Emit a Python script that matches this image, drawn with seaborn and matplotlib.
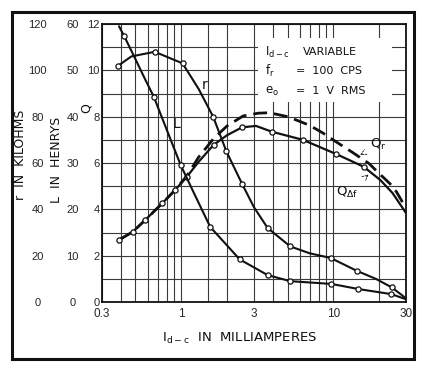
import matplotlib
matplotlib.use("Agg")
import matplotlib.pyplot as plt
from matplotlib.patches import Rectangle
import seaborn as sns

# Direct current through the winding, milliamperes (log scale)
r_ma = [0.385, 0.47, 0.67, 1.02, 1.3, 1.62, 1.98, 2.51, 3.0, 3.69, 5.2, 7.0, 9.6, 14.3, 19.0, 24.2, 30.0]
r_kohm = [102, 106, 108, 103, 92, 80, 65, 51, 41, 32, 24, 21, 19, 13.4, 10, 6.3, 1.6]
r_points = [0, 2, 3, 5, 6, 7, 9, 10, 12, 13, 15]

L_ma = [0.39, 0.42, 0.49, 0.58, 0.66, 0.8, 0.99, 1.2, 1.55, 2.0, 2.42, 3.7, 5.2, 9.7, 14.6, 24.0, 30.0]
L_henry = [59.5, 57.5, 53, 48, 44.3, 37.3, 29.6, 23.8, 16.2, 12.2, 9.2, 5.8, 4.5, 3.9, 2.8, 1.7, 0.6]
L_points = [1, 4, 6, 8, 10, 11, 12, 13, 14, 15]

qdf_ma = [0.39, 0.48, 0.58, 0.75, 0.91, 1.09, 1.3, 1.63, 2.0, 2.51, 3.1, 3.94, 6.3, 10.4, 15.8, 20.3, 24.5, 30.0]
qdf_q = [2.68, 3.03, 3.54, 4.26, 4.83, 5.41, 6.05, 6.78, 7.2, 7.54, 7.6, 7.35, 7.0, 6.39, 5.84, 5.27, 4.7, 3.84]
qdf_points = [0, 1, 2, 3, 4, 5, 7, 9, 11, 12, 13, 14]

qr_ma = [0.39, 0.48, 0.58, 0.75, 0.91, 1.09, 1.3, 1.63, 2.0, 2.55, 3.2, 3.8, 5.0, 6.1, 7.0, 8.5, 10.5, 13.4, 17.2, 19.6, 23.6, 26.0, 28.5, 30.0]
qr_q = [2.68, 3.03, 3.54, 4.26, 4.83, 5.45, 6.25, 7.05, 7.6, 8.03, 8.15, 8.17, 8.0, 7.78, 7.62, 7.3, 6.9, 6.45, 5.97, 5.6, 5.1, 4.75, 4.3, 4.1]

x_ticks = [0.3, 1, 3, 10, 30]
x_ticklabels = ["0.3", "1", "3", "10", "30"]
x_grid = [0.4, 0.5, 0.6, 0.7, 0.8, 0.9, 1.5, 2, 4, 5, 6, 7, 8, 9, 20]
q_ticks = [0, 2, 4, 6, 8, 10, 12]
r_ticks = [0, 20, 40, 60, 80, 100, 120]
L_ticks = [0, 10, 20, 30, 40, 50, 60]

sns.set_theme(style="white")
NARROW = ["Liberation Sans Narrow", "Liberation Sans", "DejaVu Sans"]
WIDE = ["DejaVu Sans"]
plt.rcParams["font.family"] = NARROW
plt.rcParams["text.color"] = "#111111"

W, H = 422, 365
fig = plt.figure(figsize=(W / 100, H / 100), dpi=100)
fig.patch.set_facecolor("white")
x0, x1, yt, yb = 101.7, 406.0, 24.0, 302.0
ax = fig.add_axes([x0 / W, 1 - yb / H, (x1 - x0) / W, (yb - yt) / H])
ax.set_xscale("log")
ax.set_xlim(0.3, 30)
ax.set_ylim(0, 12)

# grid
ax.set_xticks(x_ticks)
ax.set_xticklabels(x_ticklabels, fontsize=8.5, family=NARROW)
ax.set_xticks(x_grid, minor=True)
ax.set_xticklabels([], minor=True)
ax.set_yticks(q_ticks)
ax.set_yticklabels([str(v) for v in q_ticks], fontsize=8, family=NARROW)
ax.set_yticks([1, 3, 5, 7, 9, 11], minor=True)
ax.grid(True, which="both", color="#3a3a3a", lw=0.8)
ax.tick_params(axis="both", which="both", length=0)
ax.tick_params(axis="x", pad=4)
ax.tick_params(axis="y", pad=1.5)
for s in ax.spines.values():
    s.set_color("#111111")
    s.set_linewidth(1.3)

# r and L scales share the same plotting area, labelled further left
ax_r = ax.twinx()
ax_r.set_ylim(0, 120)
ax_L = ax.twinx()
ax_L.set_ylim(0, 60)
for a, ticks, pad in ((ax_r, r_ticks, 46), (ax_L, L_ticks, 21)):
    a.yaxis.tick_left()
    a.set_yticks(ticks)
    a.set_yticklabels([str(v) for v in ticks], fontsize=8, family=NARROW)
    a.tick_params(axis="y", length=0, pad=pad)
    for lab in a.get_yticklabels():
        lab.set_horizontalalignment("center")
    for s in a.spines.values():
        s.set_visible(False)
    a.grid(False)

ink = "#111111"
sns.lineplot(x=r_ma, y=r_kohm, ax=ax_r, color=ink, lw=1.5, sort=False, estimator=None)
sns.scatterplot(x=[r_ma[i] for i in r_points], y=[r_kohm[i] for i in r_points], ax=ax_r,
                s=14, color="white", edgecolor=ink, linewidth=0.9, zorder=5)
sns.lineplot(x=L_ma, y=L_henry, ax=ax_L, color=ink, lw=1.5, sort=False, estimator=None)
sns.scatterplot(x=[L_ma[i] for i in L_points], y=[L_henry[i] for i in L_points], ax=ax_L,
                s=14, color="white", edgecolor=ink, linewidth=0.9, zorder=5)
sns.lineplot(x=qr_ma, y=qr_q, ax=ax, color=ink, lw=2.0,
             sort=False, estimator=None, linestyle=(0, (5, 2.5)))
sns.lineplot(x=qdf_ma, y=qdf_q, ax=ax, color=ink, lw=1.6, sort=False, estimator=None)
sns.scatterplot(x=[qdf_ma[i] for i in qdf_points], y=[qdf_q[i] for i in qdf_points], ax=ax,
                s=14, color="white", edgecolor=ink, linewidth=0.9, zorder=5)
for a in (ax, ax_r, ax_L):
    a.set_xlim(0.3, 30)
    a.set_xlabel("")
    a.set_ylabel("")

# curve labels
ax.text(1.43, 9.37, "r", fontsize=10, family=WIDE, ha="center", va="center")
ax.text(0.93, 7.7, "L", fontsize=10, family=WIDE, ha="center", va="center")
ax.annotate(r"Q$_\mathregular{r}$", xy=(15.0, 6.35), xytext=(19.8, 6.78), fontsize=9.5,
            family=WIDE, ha="center", va="center",
            arrowprops=dict(arrowstyle="->", lw=0.6, ls=(0, (2, 1.5)), color=ink, shrinkA=4, shrinkB=0))
ax.annotate(r"Q$_{\mathregular{\Delta f}}$", xy=(17.0, 5.5), xytext=(12.4, 4.72), fontsize=9.5,
            family=WIDE, ha="center", va="center",
            arrowprops=dict(arrowstyle="->", lw=0.6, ls=(0, (2, 1.5)), color=ink, shrinkA=6, shrinkB=0))

# test-condition box
box = Rectangle((258 / W, 1 - 102 / H), (392 - 258) / W, (102 - 38) / H, transform=fig.transFigure,
                facecolor="white", edgecolor="none", zorder=3)
fig.add_artist(box)
rows = [(r"I$_{\mathregular{d-c}}$", "VARIABLE", 52, 303),
        (r"f$_{\mathregular{r}}$", "=  100  CPS", 71, 296),
        (r"e$_{\mathregular{o}}$", "=  1  V  RMS", 91, 296)]
for sym, rest, yy, xx in rows:
    fig.text(265 / W, 1 - yy / H, sym, fontsize=8.5, family=WIDE, va="center", ha="left", zorder=4)
    fig.text(xx / W, 1 - yy / H, rest, fontsize=8, family=WIDE, va="center", ha="left", zorder=4)

# axis titles
fig.text(240 / W, 1 - 338 / H, r"I$_{\mathregular{d-c}}$  IN  MILLIAMPERES", fontsize=9.5,
         family=WIDE, ha="center", va="center")
fig.text(21 / W, 1 - 155 / H, "r  IN  KILOHMS", fontsize=9, family=WIDE, rotation=90,
         ha="center", va="center")
fig.text(57 / W, 1 - 160 / H, "L  IN  HENRYS", fontsize=9, family=WIDE, rotation=90,
         ha="center", va="center")
fig.text(86 / W, 1 - 108 / H, "Q", fontsize=9, family=WIDE, rotation=90, ha="center", va="center")

# outer frame
fig.add_artist(Rectangle((12 / W, 1 - 359 / H), (414 - 12) / W, (359 - 12) / H,
                         transform=fig.transFigure, fill=False, lw=2.2, ec=ink))

fig.savefig("out.png", dpi=100, facecolor="white")
